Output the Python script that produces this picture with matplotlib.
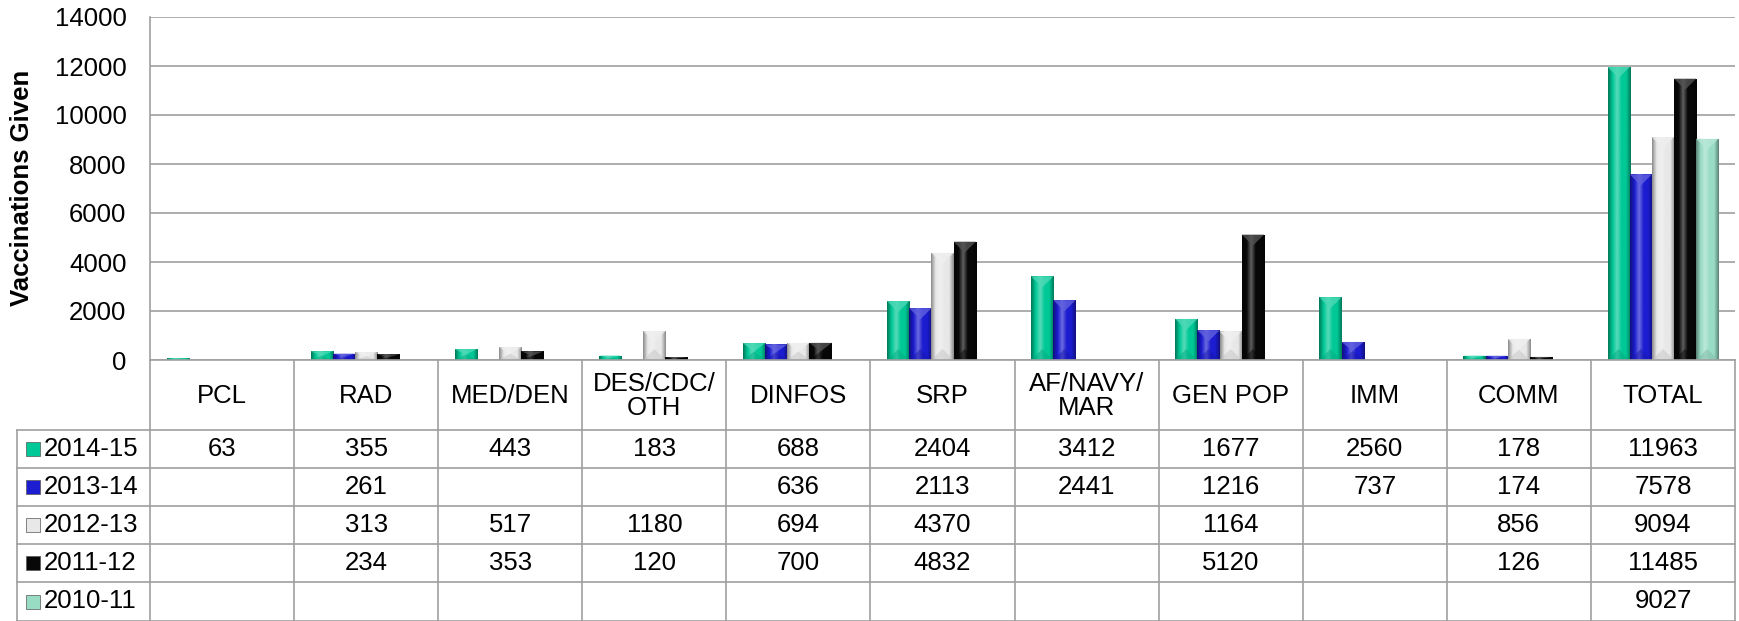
import numpy as np
import matplotlib
matplotlib.use("Agg")
import matplotlib.pyplot as plt
from matplotlib.colors import LinearSegmentedColormap, to_rgb
from matplotlib.patches import Rectangle, Polygon

plt.rcParams['font.family'] = ['Liberation Sans', 'DejaVu Sans']

# data
categories = ['PCL', 'RAD', 'MED/DEN', 'DES/CDC/\nOTH', 'DINFOS', 'SRP',
              'AF/NAVY/\nMAR', 'GEN POP', 'IMM', 'COMM', 'TOTAL']
seasons = ['2014-15', '2013-14', '2012-13', '2011-12', '2010-11']
v_2014_15 = [63, 355, 443, 183, 688, 2404, 3412, 1677, 2560, 178, 11963]
v_2013_14 = [None, 261, None, None, 636, 2113, 2441, 1216, 737, 174, 7578]
v_2012_13 = [None, 313, 517, 1180, 694, 4370, None, 1164, None, 856, 9094]
v_2011_12 = [None, 234, 353, 120, 700, 4832, None, 5120, None, 126, 11485]
v_2010_11 = [None, None, None, None, None, None, None, None, None, None, 9027]
series = [v_2014_15, v_2013_14, v_2012_13, v_2011_12, v_2010_11]
colors = ['#00c896', '#1c1cd0', '#e8e8e8', '#080808', '#98dcc4']
yticks = [0, 2000, 4000, 6000, 8000, 10000, 12000, 14000]

FS = 18.5
W, H = 1739, 621
fig = plt.figure(figsize=(W / 100, H / 100), dpi=100)
ax = fig.add_axes([150 / W, 1 - 360 / H, 1585 / W, 343 / H])

n = len(categories)
ns = len(series)
gap = 1.5
bw = 1 / (ns + gap)
x = np.arange(n)
grid_c = '#a0a0a0'
ax.set_xlim(0, n)
ax.set_ylim(0, 14000)

# data units per pixel, used for the bevel depth
ypp = 14000 / 343
xpp = n / 1585


def shade_cmap(c):
    r = np.array(to_rgb(c))
    dark = r * 0.6
    light = r + (1 - r) * 0.35
    return LinearSegmentedColormap.from_list('s', [dark, r, light, r, r, dark])


for i, (vals, c) in enumerate(zip(series, colors)):
    h = np.array([v if v is not None else 0 for v in vals], dtype=float)
    xs = x + gap * bw / 2 + i * bw + bw / 2
    bars = ax.bar(xs, h, width=bw, color=c, edgecolor='none', zorder=3)
    cm = shade_cmap(c)
    rgb = np.array(to_rgb(c))
    top_c = rgb + (1 - rgb) * 0.3
    bot_c = rgb * 0.85
    grad = np.linspace(0, 1, 64).reshape(1, -1)
    for b in bars:
        if b.get_height() <= 0:
            continue
        x0, y0, w, hh = b.get_x(), b.get_y(), b.get_width(), b.get_height()
        img = ax.imshow(grad, cmap=cm, aspect='auto', zorder=4,
                        extent=(x0, x0 + w, y0, y0 + hh))
        img.set_clip_path(b)
        d = min(hh / 2, (w / 2) / xpp * ypp)
        tp = Polygon([(x0, y0 + hh), (x0 + w, y0 + hh), (x0 + w / 2, y0 + hh - d)],
                     facecolor=top_c, edgecolor='none', zorder=5, alpha=0.8)
        ax.add_patch(tp)
        bp = Polygon([(x0, y0), (x0 + w, y0), (x0 + w / 2, y0 + d)],
                     facecolor=bot_c, edgecolor='none', zorder=5, alpha=0.5)
        ax.add_patch(bp)

ax.set_yticks(yticks)
ax.set_yticklabels([str(t) for t in yticks], fontsize=FS)
ax.set_xticks([])
ax.tick_params(axis='y', length=0, pad=17)
ax.grid(axis='y', color=grid_c, lw=1.2, zorder=0)
for s in ['top', 'right', 'bottom']:
    ax.spines[s].set_visible(False)
ax.spines['left'].set_color(grid_c)
ax.spines['left'].set_linewidth(1.2)
fig.text(22 / W, 1 - 188 / H, 'Vaccinations Given', rotation=90, fontsize=FS,
         fontweight='bold', ha='center', va='center')

# data table below the plot
ta = fig.add_axes([150 / W, 0, 1585 / W, 261 / H])
ta.set_xlim(0, n)
ta.set_ylim(621, 360)
ta.axis('off')
leg_left = -133 / 144.1
rows = [430, 468, 506, 544, 582, 621]
lkw = dict(color=grid_c, lw=1.2, clip_on=False)
ta.plot([0, n], [360, 360], **lkw)
for yy in rows:
    ta.plot([leg_left, n], [yy, yy], **lkw)
for k in range(n + 1):
    ta.plot([k, k], [360, 621], **lkw)
ta.plot([leg_left, leg_left], [430, 621], **lkw)

for k, cat in enumerate(categories):
    ta.text(k + 0.5, 396, cat, ha='center', va='center', fontsize=FS,
            linespacing=1.0)

for r, (name, vals, c) in enumerate(zip(seasons, series, colors)):
    yc = (rows[r] + rows[r + 1]) / 2
    ta.add_patch(Rectangle((leg_left + 9 / 144.1, yc + 7), 14 / 144.1, -14,
                           facecolor=c, edgecolor='#555555', lw=0.5, clip_on=False))
    ta.text(leg_left + 27 / 144.1, yc, name, ha='left', va='center', fontsize=FS,
            clip_on=False)
    for k, v in enumerate(vals):
        if v is not None:
            ta.text(k + 0.5, yc, str(v), ha='center', va='center', fontsize=FS)

fig.savefig('out.png', dpi=100)
